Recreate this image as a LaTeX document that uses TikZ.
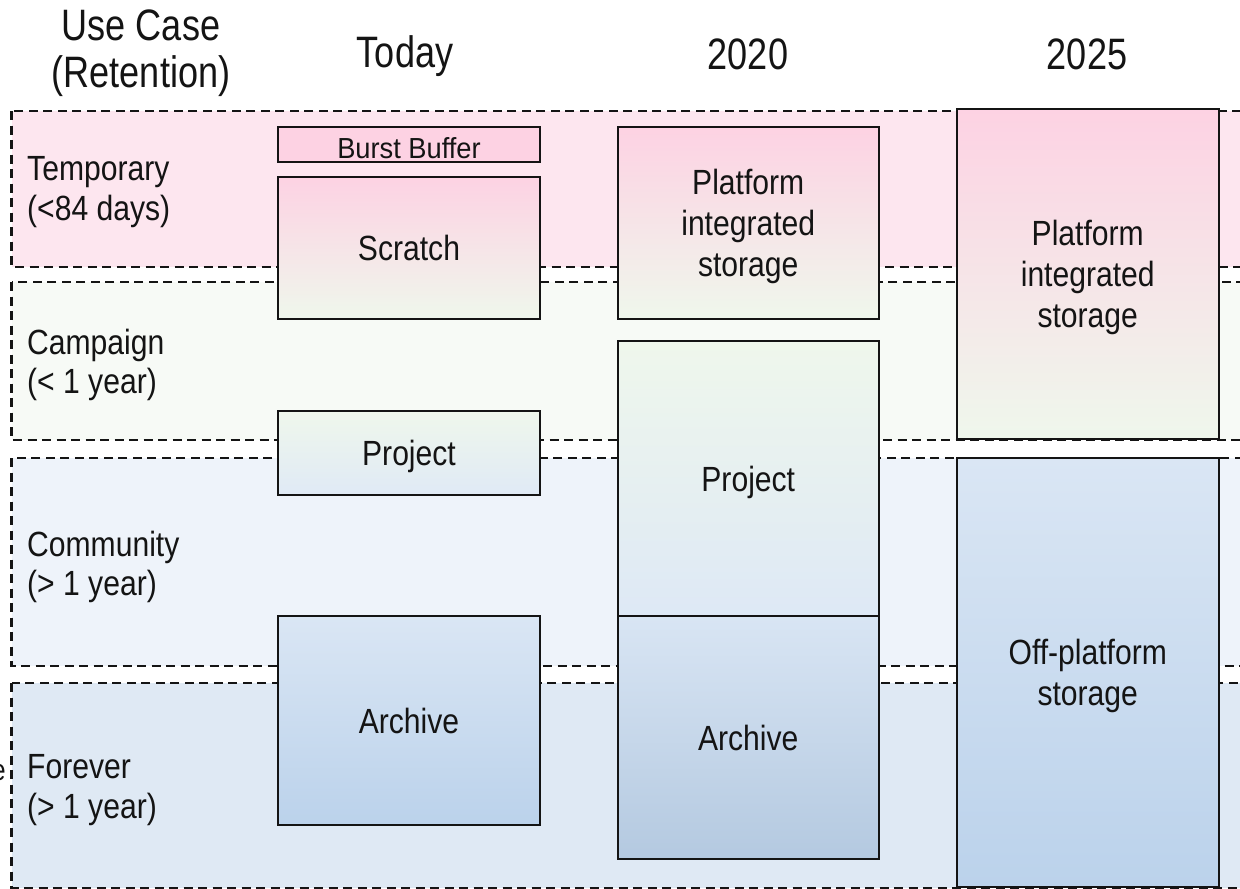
\documentclass[tikz,border=0pt]{standalone}
\usepackage{fontspec}
\setmainfont{Liberation Sans}
\newfontfamily\condfont[FakeStretch=0.86]{Liberation Sans}
\newfontfamily\headfont[FakeStretch=0.82]{Liberation Sans}
\newfontfamily\bbfont[FakeStretch=0.94]{Liberation Sans}

% band fills
\definecolor{tempband}{HTML}{FDE6EF}
\definecolor{campband}{HTML}{F7FAF6}
\definecolor{commband}{HTML}{EEF3FA}
\definecolor{foreband}{HTML}{DFE9F4}
% box shades
\definecolor{pinkbox}{HTML}{FDD2E3}
\definecolor{greenbox}{HTML}{EFF7EC}
\definecolor{lightblue}{HTML}{DAE6F4}
\definecolor{deepblue}{HTML}{BBD2EB}
\definecolor{ink}{HTML}{141414}

\tikzset{
  band/.style={draw=ink, line width=2.5pt, dash pattern=on 9pt off 5.5pt},
  box/.style={draw=ink, line width=2pt, inner sep=0pt, outer sep=0pt,
    align=center, text=ink, text depth=0pt,
    font={\condfont\fontsize{35}{41}\selectfont}},
  hdr/.style={align=center, inner sep=0pt, text=ink,
    font={\headfont\fontsize{44}{47}\selectfont}},
  rowlbl/.style={align=left, anchor=west, inner sep=0pt, text=ink,
    font={\condfont\fontsize{35}{39.5}\selectfont}},
}

\begin{document}
\begin{tikzpicture}[x=1pt,y=-1pt]
\useasboundingbox (0,0) rectangle (1240,889);
\clip (0,0) rectangle (1240,889);

% retention bands
\draw[band, fill=tempband] (11.5,111) rectangle (1275,267);
\draw[band, fill=campband] (11.5,282) rectangle (1275,440);
\draw[band, fill=commband] (11.5,458) rectangle (1275,666);
\draw[band, fill=foreband] (11.5,683) rectangle (1275,888);

% column headers
\node[hdr] (usecase) at (141,53) {Use Case\\(Retention)};
\node[hdr, anchor=base] (today) at (405,67) {Today};
\node[hdr, anchor=base] (y2020) at (748,69) {2020};
\node[hdr, anchor=base] (y2025) at (1087,69) {2025};

% row labels
\node[rowlbl] (temporary) at (27,192) {Temporary\\(<84 days)};
\node[rowlbl] (campaign) at (27,365) {Campaign\\(< 1 year)};
\node[rowlbl] (community) at (27,567) {Community\\(> 1 year)};
\node[rowlbl] (forever) at (27,790) {Forever\\(> 1 year)};
\node[inner sep=0pt, anchor=base east, text=ink,
  font={\condfont\fontsize{30}{30}\selectfont}] (edge) at (6,780) {e};

% today
\node[box, minimum width=262pt, minimum height=35pt, fill=pinkbox,
  font={\bbfont\fontsize{29}{30}\selectfont}, text height=27pt]
  (burst) at (409,144.5) {Burst Buffer};
\node[box, minimum width=262pt, minimum height=142pt,
  top color=pinkbox, bottom color=greenbox] (scratch) at (409,248) {Scratch};
\node[box, minimum width=262pt, minimum height=84pt,
  top color=greenbox, bottom color=lightblue!85!white] (project) at (409,453) {Project};
\node[box, minimum width=262pt, minimum height=209pt,
  top color=lightblue, bottom color=deepblue] (archive) at (409,720.5) {Archive};

% 2020
\node[box, minimum width=261.5pt, minimum height=192pt,
  top color=pinkbox, bottom color=greenbox] (platform20) at (748.25,223)
  {Platform\\integrated\\storage};
\node[box, minimum width=261.5pt, minimum height=275pt,
  top color=greenbox, bottom color=lightblue!90!white] (project20) at (748.25,478.5) {Project};
\node[box, minimum width=261.5pt, minimum height=243pt,
  top color=lightblue!95!deepblue, bottom color=deepblue!95!black!97] (archive20) at (748.25,737.5) {Archive};

% 2025
\node[box, minimum width=261.5pt, minimum height=330pt,
  top color=pinkbox, bottom color=greenbox] (platform25) at (1087.75,274)
  {Platform\\integrated\\storage};
\node[box, minimum width=261.5pt, minimum height=428.7pt,
  top color=lightblue, bottom color=deepblue] (offplat) at (1087.75,672.6)
  {Off-platform\\storage};
\end{tikzpicture}
\end{document}
